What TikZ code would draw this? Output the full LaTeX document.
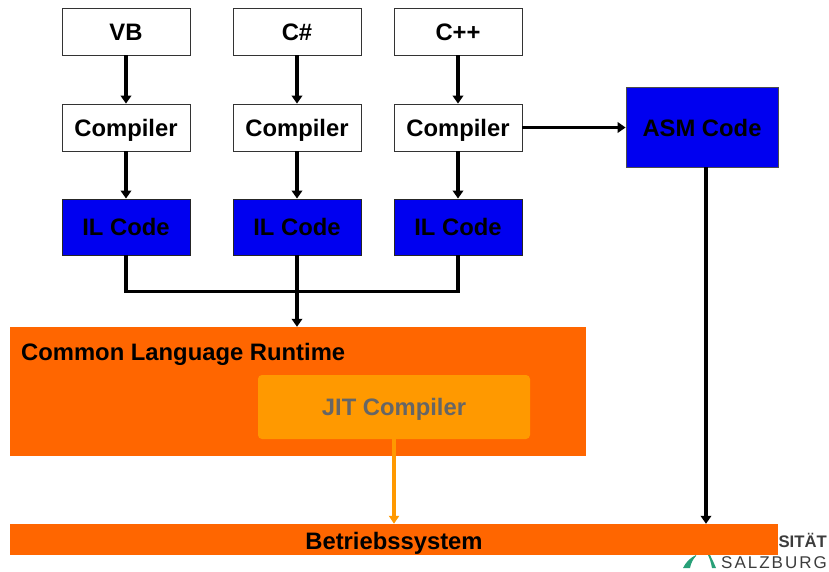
\documentclass[tikz,border=0pt]{standalone}
\usepackage{fontspec}
\setmainfont{Liberation Sans}
\usetikzlibrary{arrows.meta}
\definecolor{ilblue}{RGB}{0,0,240}
\definecolor{clrorange}{RGB}{255,102,0}
\definecolor{jitorange}{RGB}{255,153,0}
\definecolor{jitgray}{RGB}{102,102,102}
\definecolor{logogray}{RGB}{60,60,60}
\definecolor{logogreen}{RGB}{40,160,120}
\tikzset{
  x=1pt,y=-1pt,
  lbl/.style={font=\fontsize{23.8}{26}\selectfont\bfseries,text=black,inner sep=0pt,text height=17pt,text depth=0pt},
  whitebox/.style={draw=black!80,line width=0.8pt,fill=white,minimum width=128pt,minimum height=47pt,lbl},
  ilbox/.style={draw=black!85,line width=0.9pt,fill=ilblue,minimum width=128pt,minimum height=56pt,lbl},
  flow/.style={draw=black,line width=3.8pt,-{Triangle[length=8pt,width=10.5pt]}},
  bus/.style={draw=black,line width=3.8pt},
}
\begin{document}
\begin{tikzpicture}
\useasboundingbox (0,0) rectangle (829,571);
% logo
\node[anchor=base east,inner sep=0pt,text=logogray,font=\fontsize{16.7}{18}\selectfont\bfseries] (logoa) at (827,547) {SITÄT};
\node[anchor=base east,inner sep=0pt,text=logogray,font=\fontsize{17}{19}\selectfont] (logob) at (827,568) {S\kern2pt A\kern2pt L\kern2pt Z\kern2pt B\kern2pt U\kern2pt R\kern2pt G};
\fill[logogreen] (683,568) .. controls (686,562) and (690,558) .. (696,555) -- (696,556) .. controls (693,559) and (691,563) .. (690,568) -- cycle;
\fill[logogreen] (708,555) -- (710,555) .. controls (712,559) and (714,563) .. (716,568) -- (712,568) .. controls (711,563) and (710,559) .. (708,555) -- cycle;
% source boxes
\node[whitebox] (vb) at (126,31.5) {VB};
\node[whitebox] (cs) at (297,31.5) {C\#};
\node[whitebox] (cpp) at (458,31.5) {C++};
\node[whitebox] (c1) at (126,127.5) {Compiler};
\node[whitebox] (c2) at (297,127.5) {Compiler};
\node[whitebox] (c3) at (458,127.5) {Compiler};
\node[ilbox] (il1) at (126,227) {IL Code};
\node[ilbox] (il2) at (297,227) {IL Code};
\node[ilbox] (il3) at (458,227) {IL Code};
\node[draw=black!70,line width=0.8pt,fill=ilblue,minimum width=152pt,minimum height=80pt,lbl] (asm) at (702,127.5) {ASM Code};
% runtime
\node[fill=clrorange,minimum width=576pt,minimum height=129pt,inner sep=0pt] (clr) at (298,391.5) {};
\node[anchor=west,lbl] (clrt) at (21,352) {Common Language Runtime};
\node[fill=jitorange,rounded corners=4pt,minimum width=272pt,minimum height=64pt,lbl,text=jitgray] (jit) at (394,407) {JIT Compiler};
\node[fill=clrorange,minimum width=768pt,minimum height=31pt,inner sep=0pt] (os) at (394,539.5) {};
\node[lbl] (ost) at (394,541) {Betriebssystem};
% connectors
\draw[flow] (vb) -- (c1);
\draw[flow] (cs) -- (c2);
\draw[flow] (cpp) -- (c3);
\draw[flow] (c1) -- (il1);
\draw[flow] (c2) -- (il2);
\draw[flow] (c3) -- (il3);
\draw[flow] (c3.east) -- (asm.west);
\coordinate (j) at (297,291.5);
\draw[bus] (il1.south) |- (il3.south |- j) -- (il3.south);
\draw[flow] (il2.south) -- (il2.south |- clr.north);
\coordinate (asmdrop) at (706,167);
\draw[flow] (asmdrop) -- (asmdrop |- os.north);
\draw[draw=jitorange,line width=3.8pt,-{Triangle[length=8pt,width=10pt]}] (jit.south) -- (os.north);
\end{tikzpicture}
\end{document}
